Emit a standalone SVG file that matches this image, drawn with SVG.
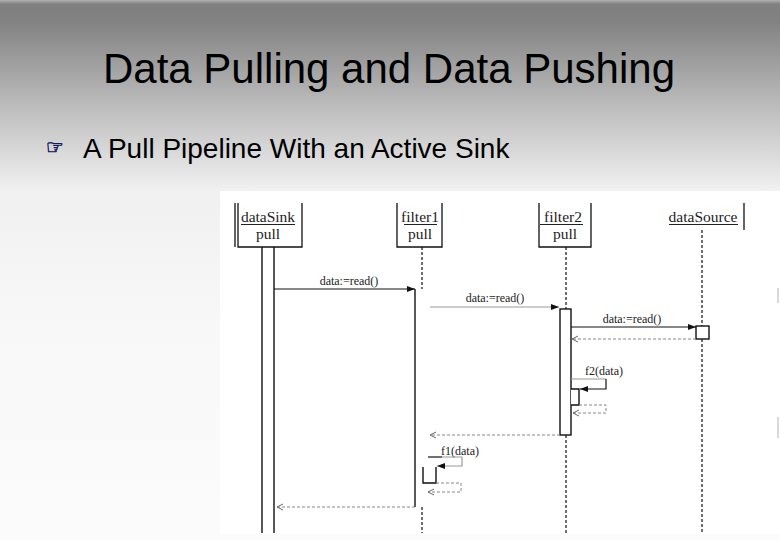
<svg xmlns="http://www.w3.org/2000/svg" width="780" height="540" viewBox="0 0 780 540">
<defs>
<linearGradient id="bg" x1="0" y1="0" x2="0" y2="540" gradientUnits="userSpaceOnUse">
<stop offset="0" stop-color="#b0b0b0"/>
<stop offset="0.008" stop-color="#7f7f7f"/>
<stop offset="0.04" stop-color="#828282"/>
<stop offset="0.185" stop-color="#b8b8b8"/>
<stop offset="0.35" stop-color="#f0f0f0"/>
<stop offset="0.6" stop-color="#f8f8f8"/>
<stop offset="1" stop-color="#fbfbfb"/>
</linearGradient>
<marker id="af" viewBox="0 0 8 6" refX="8" refY="3" markerWidth="8" markerHeight="6" markerUnits="userSpaceOnUse" orient="auto">
<path d="M0,0L8,3L0,6z" fill="#111"/>
</marker>
<marker id="ao" viewBox="0 0 8 8" refX="7" refY="4" markerWidth="8" markerHeight="8" markerUnits="userSpaceOnUse" orient="auto">
<path d="M1,1L7,4L1,7" fill="none" stroke="#666" stroke-width="1"/>
</marker>
<style>
.box{fill:none;stroke:#111;stroke-width:1.3}
.act{fill:#fff;stroke:#111;stroke-width:1.4}
.life{stroke:#111;stroke-width:1.2;stroke-dasharray:3 2;fill:none}
.msg{stroke:#111;stroke-width:1.2;fill:none}
.msgg{stroke:#9a9a9a;stroke-width:1.2;fill:none}
.ret{stroke:#888;stroke-width:1;stroke-dasharray:3 2;fill:none}
.nm{font-family:"Liberation Serif",serif;font-size:15.5px;fill:#222;text-anchor:middle}
.lb{font-family:"Liberation Serif",serif;font-size:12px;fill:#222}
.ul{stroke:#222;stroke-width:1}
</style>
</defs>
<rect x="0" y="0" width="780" height="540" fill="url(#bg)"/>
<rect x="220" y="191" width="560" height="343" fill="#fff"/>
<line x1="778" y1="288" x2="778" y2="303" stroke="#ccc" stroke-width="1.5"/>
<line x1="778" y1="417" x2="778" y2="438" stroke="#ccc" stroke-width="1.5"/>

<text x="389" y="83" font-family="'Liberation Sans',Arial,sans-serif" font-size="42" fill="#000" text-anchor="middle">Data Pulling and Data Pushing</text>
<text x="46" y="154" font-family="'DejaVu Sans',sans-serif" font-size="20" fill="#16165a" stroke="#16165a" stroke-width="0.6">☞</text>
<text x="83" y="158" font-family="'Liberation Sans',Arial,sans-serif" font-size="28" fill="#000">A Pull Pipeline With an Active Sink</text>

<g id="dataSink">
<path class="box" d="M235,203V247M238,203V247H302V203"/>
<text class="nm" x="268" y="222">dataSink</text>
<line class="ul" x1="241" y1="224.5" x2="295" y2="224.5"/>
<text class="nm" x="268" y="239">pull</text>
<path class="act" d="M262,247V533M274,247V533"/>
</g>

<g id="filter1">
<path class="box" d="M397,203V247H442V203"/>
<text class="nm" x="420" y="222">filter1</text>
<line class="ul" x1="404" y1="224.5" x2="437" y2="224.5"/>
<text class="nm" x="420" y="239">pull</text>
<path class="life" d="M422,247V289M422,507V533"/>
<path class="act" d="M415,289V507"/>
<path class="act" fill="none" d="M423,467V483H436V467"/>
</g>

<g id="filter2">
<path class="box" d="M539,203V247H591V203"/>
<text class="nm" x="563" y="222">filter2</text>
<line class="ul" x1="540" y1="224.5" x2="583" y2="224.5"/>
<text class="nm" x="565" y="239">pull</text>
<path class="life" d="M566,247V309M566,435V533"/>
<rect class="act" x="560" y="309" width="11" height="126"/>
<path class="act" fill="none" d="M571,389H579V405H571"/>
</g>

<g id="dataSource">
<path class="box" d="M744,203V230"/>
<text class="nm" x="703" y="222">dataSource</text>
<line class="ul" x1="669" y1="224.5" x2="738" y2="224.5"/>
<path class="life" d="M702,230V326M702,339V533"/>
<rect class="act" x="696" y="326" width="13" height="13"/>
</g>

<g id="connectors">
<path class="msg" d="M274,289H415" marker-end="url(#af)"/>
<text class="lb" x="349" y="285" text-anchor="middle">data:=read()</text>
<path class="msgg" d="M430,307H559" marker-end="url(#af)"/>
<text class="lb" x="495" y="302" text-anchor="middle">data:=read()</text>
<path class="msg" d="M571,327H696" marker-end="url(#af)"/>
<text class="lb" x="632" y="323" text-anchor="middle">data:=read()</text>
<path class="ret" d="M696,339H572" marker-end="url(#ao)"/>
<path class="msgg" d="M571,379H606"/>
<path class="msg" d="M606,379V389H580" marker-end="url(#af)"/>
<text class="lb" x="585" y="375">f2(data)</text>
<path class="ret" d="M579,405H606V413H573" marker-end="url(#ao)"/>
<path class="ret" d="M560,435H430" marker-end="url(#ao)"/>
<path class="msg" d="M428,457H442"/>
<path class="msgg" d="M442,457H462V466H437" marker-end="url(#af)"/>
<text class="lb" x="441" y="455">f1(data)</text>
<path class="ret" d="M436,483H461V492H428" marker-end="url(#ao)"/>
<path class="ret" d="M415,507H277" marker-end="url(#ao)"/>
</g>
</svg>
